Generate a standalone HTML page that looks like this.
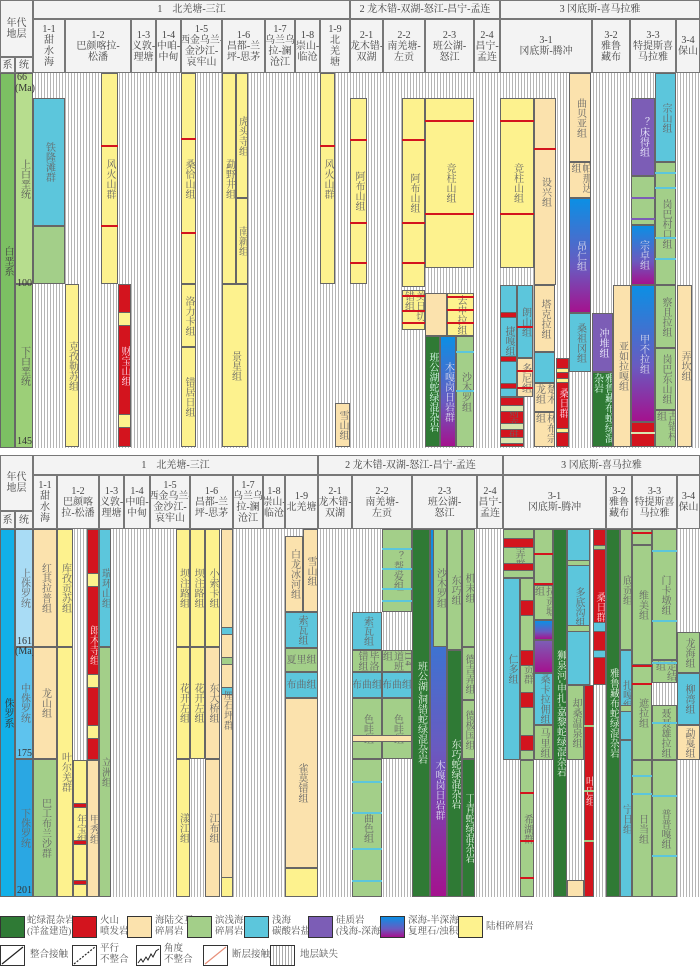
<!DOCTYPE html>
<html><head><meta charset="utf-8"><style>
*{margin:0;padding:0;box-sizing:border-box}
body{width:700px;height:967px;background:#fff;font-family:"Liberation Serif","Noto Serif CJK SC","Noto Sans CJK SC",serif;position:relative;overflow:hidden;color:#555}
.a{position:absolute}
.hatch{background:repeating-linear-gradient(90deg,#fff 0,#fff 2px,#b5b5b5 2px,#b5b5b5 3px)}
.hd{position:absolute;background:#f3f3f3;border:1px solid #777;display:flex;align-items:center;justify-content:center;text-align:center;font-size:10px;line-height:11px;color:#444;overflow:hidden;white-space:nowrap}
.b{position:absolute;border:0.5px solid #666;display:flex;align-items:center;justify-content:center;overflow:hidden}
.v{writing-mode:vertical-rl;font-size:10px;line-height:11px;color:#666}
.hz{font-size:10px;line-height:11px;color:#666;white-space:nowrap}
.tk{position:absolute;font-size:10px;color:#333;line-height:10px}
.lg{position:absolute;font-size:9.5px;line-height:11px;color:#555;white-space:nowrap}
.lb{position:absolute;width:25px;height:22px;border:1px solid #333}
</style></head><body>
<div id="root"></div>
<script>
// timescale tick labels (Ma) and their positions via scale functions
const topTicks=[66,100,145];
const botTicks=[161,175,201];
const topAges=[66,100,145], topPx=[73,284,447];
const botAges=[145,161,175,201], botPx=[529,647,759,896];
function scale(ages,px,a){for(let i=0;i<ages.length-1;i++){if(a<=ages[i+1]){return px[i]+(a-ages[i])/(ages[i+1]-ages[i])*(px[i+1]-px[i]);}}return px[px.length-1];}
const root=document.getElementById('root');
const C={dg:'#2f7a35',r:'#d3141e',be:'#fbe2ad',g:'#a3cf89',bl:'#5cc6dc',p:'#7c5db6',y:'#fdf28e',gr:'linear-gradient(#0c8fe4,#6a5ac0 60%,#a4128e)',h:''};
function el(cls,x,y,w,h,bg,name){const d=document.createElement('div');d.className=cls;d.style.left=x+'px';d.style.top=y+'px';d.style.width=w+'px';d.style.height=h+'px';if(bg)d.style.background=bg;

root.appendChild(d);return d;}
function blk(x,w,y1,y2,c,label,name,tc){const d=el('b',x,y1,w,y2-y1,C[c]||c,name||'stratum');if(label){const s=document.createElement('span');const h=y2-y1;s.className=(h<label.length*10+4&&w>=label.length*9)?'hz':'v';s.textContent=label;if(tc)s.style.color=tc;d.appendChild(s);}return d;}
function ln(x,w,y,c){const d=el('a',x,y,w,2,c||C.r,'marker-band');return d;}
function hd(x,y,w,h,t,name){const d=el('hd',x,y,w,h,null,name);d.innerHTML=t;return d;}
// hatch areas
el('a hatch',33,73,667,375,null,'top-gap-area');
el('a hatch',33,529,667,368,null,'bottom-gap-area');
// ===== TOP PANEL HEADER =====
hd(0,0,33,57,'年代<br>地层','era-header');hd(0,57,15,16,'系','system-header');hd(15,57,18,16,'统','series-header');
hd(33,0,317,19,'1　北羌塘-三江','zone1-header');hd(350,0,150,19,'2 龙木错-双湖-怒江-昌宁-孟连','zone2-header');hd(500,0,200,19,'3 冈底斯-喜马拉雅','zone3-header');
const topCols=[[33,32,'1-1<br>甜<br>水<br>海'],[65,66,'1-2<br>巴颜喀拉-<br>松潘'],[131,25,'1-3<br>义敦-<br>理塘'],[156,25,'1-4<br>中咱-<br>中甸'],[181,41,'1-5<br>西金乌兰-<br>金沙江-<br>哀牢山'],[222,43,'1-6<br>昌都-兰<br>坪-思茅'],[265,30,'1-7<br>乌兰乌<br>拉-澜<br>沧江'],[295,25,'1-8<br>崇山-<br>临沧'],[320,30,'1-9<br>北<br>羌<br>塘'],[350,33,'2-1<br>龙木错-<br>双湖'],[383,42,'2-2<br>南羌塘-<br>左贡'],[425,49,'2-3<br>班公湖-<br>怒江'],[474,26,'2-4<br>昌宁-<br>孟连'],[500,92,'3-1<br>冈底斯-腾冲'],[592,38,'3-2<br>雅鲁<br>藏布'],[630,46,'3-3<br>特提斯喜<br>马拉雅'],[676,24,'3-4<br>保山']];
topCols.forEach(c=>hd(c[0],19,c[1],54,c[2],'column-header-'+c[2].slice(0,3)));
blk(0,15,73,448,'#7cc063','白垩系','cretaceous-system','#444');
blk(15,18,73,284,'#b7dd8e','上白垩统','upper-cretaceous','#555');
blk(15,18,284,448,'#9ccf78','下白垩统','lower-cretaceous','#555');
topTicks.forEach(t=>{const d=el('tk',17,scale(topAges,topPx,t)-(t==66?0:t==145?10:5),16,10,null,'tick-'+t);d.textContent=t;});
el('tk',15,84,18,10,null,'ma-unit').textContent='(Ma)';
// top blocks
blk(33,32,98,226,'bl','铁隆滩群','tielongtan-group');blk(33,32,226,284,'g','','tielongtan-lower');
blk(101,17,73,284,'y','风火山群','fenghuoshan-group');ln(101,17,145);ln(101,17,225);
blk(65,14,284,447,'y','克孜勒苏组','kezilesu-fm');
blk(118,13,284,447,'r','财宝山组','caibaoshan-fm','#fde');blk(118,13,312,326,'y','','band');blk(118,13,414,428,'y','','band');
blk(181,15,73,284,'y','桑恰山组','sangqiashan-fm');ln(181,15,138);ln(181,15,232);
blk(181,15,284,347,'y','洛力卡组','luolika-fm');blk(181,15,347,447,'y','错居日组','cuojuri-fm');
blk(222,14,73,284,'y','勐野井组','mengyejing-fm');blk(236,12,73,198,'y','虎头寺组','hutousi-fm');blk(236,12,198,284,'y','南新组','nanxin-fm');
blk(222,26,284,447,'y','景星组','jingxing-fm');
blk(320,15,73,284,'y','风火山群','fenghuoshan-group-2');ln(320,15,145);
blk(335,15,403,447,'be','雪山组','xueshan-fm');
blk(350,17,98,284,'y','阿布山组','abushan-fm');[139,222,262].forEach(y=>ln(350,17,y));
blk(402,23,98,287,'y','阿布山组','abushan-fm-2');[139,222,262].forEach(y=>ln(402,23,y));
blk(402,23,290,330,'y','美日切错组','meiriqiecuo-fm');[295,310,322].forEach(y=>ln(402,23,y));
blk(425,49,98,268,'y','竞柱山组','jingzhushan-fm');ln(425,49,120);ln(425,49,213);
blk(425,22,293,336,'be','','qushenla-left');blk(447,27,293,336,'y','去申拉组','qushenla-fm');[296,309,322].forEach(y=>ln(447,27,y));
blk(425,15,336,447,'dg','班公湖蛇绿混杂岩','bangonghu-ophiolite','#dfe');
blk(440,16,336,447,C.gr,'木嘎岗日岩群','mugagangri-group','#dde');
blk(456,18,336,447,'g','沙木罗组','shamuluo-fm');ln(456,18,351,C.bl);ln(456,18,390,C.bl);
blk(500,34,98,268,'y','竞柱山组','jingzhushan-fm-2');ln(500,34,120);ln(500,34,213);
blk(534,22,98,285,'be','设兴组','shexing-fm');ln(534,22,148);
blk(569,22,73,162,'be','曲贝亚组','qubeiya-fm');blk(569,22,162,198,'be','帕那达组','panada-fm');
blk(569,22,198,313,C.gr,'昂仁组','angren-fm','#dde');blk(569,22,313,372,'bl','桑祖冈组','sangzugang-fm');
blk(500,17,285,397,'bl','捷嘎组','jiega-fm');[312,356,383].forEach(y=>{blk(500,17,y,y+6,'r','','band')});
blk(517,16,285,358,'bl','朗山组','langshan-fm');ln(517,16,326);
blk(517,16,358,397,'be','多尼组','duoni-fm');ln(517,16,370);ln(517,16,387);
blk(500,24,397,447,'r','则弄群','zenong-group');[405,423,437].forEach(y=>{blk(500,24,y,y+7,'#d8e6b0','','band')});
blk(534,21,285,352,'be','塔克拉组','takela-fm');blk(534,21,352,383,'bl','','takela-blue');
blk(534,21,383,412,'be','楚木龙组','chumulong-fm');blk(534,21,412,447,'be','林布宗组','linbuzong-fm');
blk(556,13,358,447,'r','桑日群','sangri-group','#fde');[368,378,428].forEach(y=>{blk(556,13,y,y+5,'y','','band')});
blk(592,21,313,372,'p','冲堆组','chongdui-fm','#eef');blk(592,21,372,447,'dg','雅鲁藏布蛇绿混杂岩','yarlung-ophiolite','#dfe');
blk(613,18,285,447,'be','亚如拉嘎组','yarulaga-fm');
blk(631,24,98,176,'p','？床得组','chuangde-fm','#eef');blk(631,24,176,225,'g','','chuangde-green');ln(631,24,197,C.p);ln(631,24,218,C.p);
blk(631,24,225,285,C.gr,'宗卓组','zongzhuo-fm','#dde');
blk(631,24,285,422,C.gr,'甲不拉组','jiabula-fm','#dde');blk(631,24,422,447,'r','','zongpu');ln(631,24,432,'#d8e6b0');
blk(655,21,73,162,'bl','宗山组','zongshan-fm');blk(655,21,162,285,'g','岗巴村口组','gangbacunkou-fm');[172,187,237,258].forEach(y=>ln(655,21,y,C.bl));
blk(655,21,285,348,'g','察且拉组','chaqiela-fm');blk(655,21,348,410,'g','岗巴东山组','gangbadongshan-fm');blk(655,21,410,447,'g','古错村组','gucuocun-fm');
blk(677,15,285,447,'be','弄坎组','nongkan-fm');
// ===== BOTTOM PANEL HEADER =====
hd(0,455,33,56,'年代<br>地层','era-header-2');hd(0,511,15,18,'系','system-header-2');hd(15,511,18,18,'统','series-header-2');
hd(33,455,285,20,'1　北羌塘-三江','zone1-header-2');hd(318,455,185,20,'2 龙木错-双湖-怒江-昌宁-孟连','zone2-header-2');hd(503,455,197,20,'3 冈底斯-喜马拉雅','zone3-header-2');
const botCols=[[33,24,'1-1<br>甜<br>水<br>海'],[57,42,'1-2<br>巴颜喀<br>拉-松潘'],[99,25,'1-3<br>义敦-<br>理塘'],[124,26,'1-4<br>中咱-<br>中甸'],[150,40,'1-5<br>西金乌兰-<br>金沙江-<br>哀牢山'],[190,43,'1-6<br>昌都-兰<br>坪-思茅'],[233,30,'1-7<br>乌兰乌<br>拉-澜<br>沧江'],[263,22,'1-8<br>崇山-<br>临沧'],[285,33,'1-9<br>北羌塘'],[318,34,'2-1<br>龙木错-<br>双湖'],[352,60,'2-2<br>南羌塘-<br>左贡'],[412,65,'2-3<br>班公湖-<br>怒江'],[477,26,'2-4<br>昌宁-<br>孟连'],[503,103,'3-1<br>冈底斯-腾冲'],[606,26,'3-2<br>雅鲁<br>藏布'],[632,45,'3-3<br>特提斯喜<br>马拉雅'],[677,23,'3-4<br>保山']];
botCols.forEach(c=>hd(c[0],475,c[1],54,c[2],'column-header-b'+c[2].slice(0,3)));
blk(0,15,529,897,'#12b0e8','侏罗系','jurassic-system','#333');
blk(15,18,529,647,'#a9dcf5','上侏罗统','upper-jurassic');blk(15,18,647,759,'#5ec3ee','中侏罗统','middle-jurassic');blk(15,18,759,897,'#2aa7e3','下侏罗统','lower-jurassic');
botTicks.forEach(t=>{const d=el('tk',17,scale(botAges,botPx,t)-10,16,10,null,'tick-'+t);d.textContent=t;});
el('tk',15,647,18,10,null,'ma-unit-2').textContent='(Ma)';
blk(33,24,529,647,'be','红其拉普组','hongqilapu-fm');blk(33,24,647,759,'be','龙山组','longshan-fm');blk(33,24,759,897,'g','巴工布兰沙群','bagongbulansha-group');
blk(57,16,529,647,'y','库孜贡苏组','kuzigongsu-fm');blk(57,16,647,897,'y','叶尔羌群','yeerqiang-group');
blk(73,14,760,897,'y','年宝组','nianbao-fm');[803,840,880].forEach(y=>{blk(73,14,y,y+5,'r','','band')});
blk(87,12,529,760,'r','郎木寺组','langmusi-fm','#fdd');[573,674,725].forEach(y=>{blk(87,12,y,y+14,'y','','band')});
blk(87,12,760,897,'be','甲秀组','jiaxiu-fm');
blk(99,12,529,647,'bl','瑞环山组','ruihuanshan-fm');blk(99,12,647,897,'g','立洲组','lizhou-fm');
blk(176,14,529,647,'y','坝注路组','bazhulu-fm');blk(176,14,647,759,'y','花开左组','huakaizuo-fm');blk(176,14,759,897,'y','漾江组','yangjiang-fm');
blk(190,15,529,647,'y','坝注路组','bazhulu-fm-2');blk(190,15,647,759,'y','花开左组','huakaizuo-fm-2');
blk(205,15,529,647,'y','小索卡组','xiaosuoka-fm');blk(205,15,647,759,'be','东大桥组','dongdaqiao-fm');blk(205,15,759,897,'be','江布组','jiangbu-fm');
blk(221,12,529,897,'be','','lishiping-group');blk(221,12,627,635,'bl','','band');blk(221,12,657,665,'g','','band');blk(221,12,687,695,'bl','','band');blk(221,12,877,897,'y','','band');
const lsp=blk(221,12,680,740,'transparent','厘石坪群','lishiping-label');lsp.style.border='none';
blk(285,18,536,612,'be','白龙冰河组','bailongbinghe-fm');blk(303,15,529,612,'be','雪山组','xueshan-fm-2');
blk(285,33,612,648,'bl','索瓦组','suowa-fm');blk(285,33,648,672,'g','夏里组','xiali-fm');blk(285,33,672,698,'bl','布曲组','buqu-fm');
blk(285,33,698,868,'be','雀莫错组','quemocuo-fm');blk(285,33,868,897,'y','','quemocuo-lower');
blk(382,30,529,612,'g','？帮爱组','bangai-fm');[548,568,588,600].forEach(y=>ln(382,30,y,C.bl));
blk(352,30,612,650,'bl','索瓦组','suowa-fm-2');blk(352,30,650,672,'g','毕洛错组','biluocuo-fm');blk(382,30,650,672,'g','114道班组','daoban-fm');
blk(352,30,672,698,'bl','布曲组','buqu-fm-2');blk(382,30,672,698,'bl','布曲组','buqu-fm-3');
blk(352,30,698,759,'g','色哇组','sewa-fm');blk(382,30,698,759,'g','色哇组','sewa-fm-2');blk(352,60,735,742,'be','','band');
blk(352,30,759,897,'g','曲色组','quse-fm');[781,812,848,880].forEach(y=>ln(352,30,y,C.bl));
blk(412,18,529,897,'dg','班公湖-洞错蛇绿混杂岩','bangonghu-dongcuo-ophiolite','#e6f5e6');
blk(430,17,529,897,C.gr,'','mugagangri-2');blk(433,14,529,647,'g','沙木罗组','shamuluo-fm-2');
const mg=blk(430,17,700,880,'transparent','木嘎岗日岩群','mugagangri-label','#dde');mg.style.border='none';
blk(447,15,529,650,'g','东巧组','dongqiao-fm');blk(447,15,650,897,'dg','东巧蛇绿混杂岩','dongqiao-ophiolite','#e6f5e6');
blk(462,13,529,647,'g','机末组','jimo-fm');blk(462,13,647,700,'g','德吉弄组','dejinong-fm');blk(462,13,700,759,'g','德极国组','dejiguo-fm');blk(462,13,759,897,'dg','丁青蛇绿混杂岩','dingqing-ophiolite','#e6f5e6');
blk(503,31,529,578,'g','则弄群','zenong-group-2');blk(503,31,538,548,'r','','band');blk(503,31,563,571,'r','','band');
blk(503,17,578,760,'bl','仁多组','renduo-fm');
blk(520,14,578,760,'g','日贡群','rigong-group');[600,650,692,735].forEach(y=>{blk(520,14,y,y+16,'r','','band')});
blk(520,14,760,897,'g','希湖群','xihu-group');[792,840,877].forEach(y=>ln(520,14,y));
blk(534,19,529,585,'g','','lagongtang-top');ln(534,19,553);blk(534,19,585,620,'g','拉贡塘组','lagongtang-fm');ln(534,19,583);
blk(534,19,620,640,C.gr,'','band');blk(534,19,640,673,'linear-gradient(#7c5db6,#a4128e)','','purple-band');
blk(534,19,673,725,'bl','桑卡拉佣组','sangkalayong-fm');blk(534,19,725,760,'g','马里组','mali-fm');
blk(553,14,529,897,'dg','狮泉河-申扎-嘉黎蛇绿混杂岩','shiquanhe-ophiolite','#e6f5e6');
blk(567,23,529,685,'bl','多底沟组','duodigou-fm');blk(567,23,560,566,'g','','band');blk(567,23,625,632,'g','','band');
blk(567,17,685,760,'g','却桑温泉组','quesangwenquan-fm');blk(567,17,880,897,'be','','band');
blk(584,10,685,897,'r','叶巴组','yeba-fm','#fdd');[725,790,840].forEach(y=>ln(584,10,y,C.g));
blk(593,13,529,685,'r','桑日群','sangri-group-2','#fdd');blk(593,13,545,550,'g','','band');blk(593,13,622,632,'bl','','band');blk(593,13,650,658,'bl','','band');
blk(606,14,529,897,'dg','雅鲁藏布蛇绿混杂岩','yarlung-ophiolite-2','#e6f5e6');
blk(620,12,529,650,'g','底贡组','digong-fm');blk(620,12,650,740,'bl','扎嘎组','zhaga-fm');blk(620,12,740,897,'bl','宁日组','ningri-fm');blk(620,12,705,712,'g','','band');
blk(632,20,529,545,'g','','weimei-top');ln(632,20,532);
blk(632,20,545,665,'g','维美组','weimei-fm');blk(632,20,665,760,'g','遮拉组','zhela-fm');ln(632,20,665);ln(632,20,683);
blk(632,20,760,897,'g','日当组','ridang-fm');ln(632,20,775,C.bl);ln(632,20,793,C.bl);
blk(652,25,529,660,'g','门卡墩组','menkadun-fm');ln(652,25,550,C.bl);ln(652,25,620,C.bl);
blk(652,25,660,683,'g','定结组','dingjie-fm');ln(652,25,662,C.bl);
blk(652,25,705,760,'g','聂聂雄拉组','nienie-fm');ln(652,25,722,C.bl);
blk(652,25,760,897,'g','普普嘎组','pupuga-fm');ln(652,25,795,C.bl);ln(652,25,855,C.bl);
blk(677,23,632,673,'g','龙海组','longhai-fm');blk(677,23,673,725,'bl','柳湾组','liuwan-fm');blk(677,23,725,760,'be','勐戛组','mengga-fm');
// ===== LEGEND =====
const lgItems=[[0,C.dg,'蛇绿混杂岩<br>(洋盆建造)',27],[72,C.r,'火山<br>喷发岩',100],[127,C.be,'海陆交互<br>碎屑岩',155],[187,C.g,'滨浅海<br>碎屑岩',215],[244,C.bl,'浅海<br>碳酸岩盐',272],[308,C.p,'硅质岩<br>(浅海-深海)',336],[380,C.gr,'深海-半深海<br>复理石/浊积岩',408],[458,C.y,'陆相碎屑岩',486]];
lgItems.forEach((it,i)=>{el('lb',it[0],916,25,22,it[1],'legend-swatch-'+i);const t=el('lg',it[3],916,70,24,null,'legend-label-'+i);t.innerHTML=it[2];if(i==7)t.style.top='922px';});
const lg2=[[0,'整合接触',30],[72,'平行<br>不整合',100],[136,'角度<br>不整合',164],[203,'断层接触',232],[270,'地层缺失',300]];
lg2.forEach((it,i)=>{const b=el('lb',it[0],945,25,21,i==4?'repeating-linear-gradient(90deg,#fff 0,#fff 2px,#aaa 2px,#aaa 3px)':'#fff','contact-swatch-'+i);
if(i<4){b.innerHTML='<svg width="23" height="19"><line x1="1" y1="18" x2="22" y2="1" stroke="'+(i==3?'#e8907a':'#222')+'" stroke-width="1.2" '+(i==1?'stroke-dasharray="2,1.5"':'')+'/></svg>';if(i==2)b.innerHTML='<svg width="23" height="19"><polyline points="1,17 4,13 6,16 9,11 11,14 14,8 16,11 19,5 22,3" fill="none" stroke="#222"/></svg>';}
const t=el('lg',it[2],(i==1||i==2)?944:950,60,24,null,'contact-label-'+i);t.innerHTML=it[1];});
</script>
</body></html>
